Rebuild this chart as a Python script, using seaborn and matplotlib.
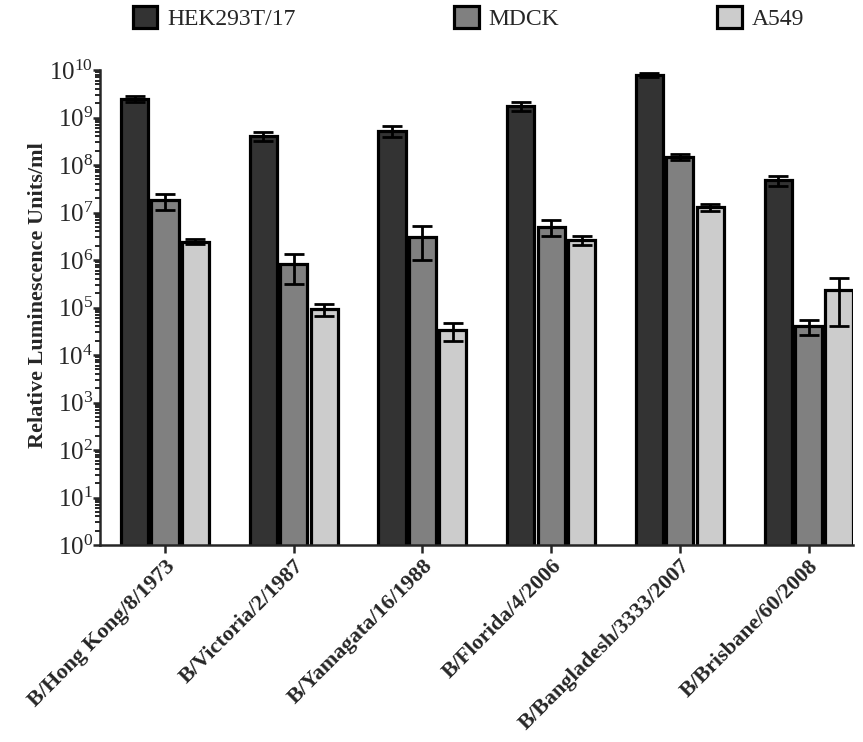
import numpy as np
import pandas as pd
import matplotlib
matplotlib.use("Agg")
import matplotlib.pyplot as plt
from matplotlib.ticker import LogLocator, FuncFormatter, NullFormatter
import seaborn as sns

strains = ["B/Hong Kong/8/1973", "B/Victoria/2/1987", "B/Yamagata/16/1988",
           "B/Florida/4/2006", "B/Bangladesh/3333/2007", "B/Brisbane/60/2008"]
cell_lines = ["HEK293T/17", "MDCK", "A549"]

# mean relative luminescence units/ml per strain
hek_mean = [2.5e9, 4.1e8, 5.2e8, 1.75e9, 7.9e9, 4.8e7]
mdck_mean = [1.8e7, 8.1e5, 3.1e6, 5.0e6, 1.47e8, 4.1e4]
a549_mean = [2.45e6, 9.4e4, 3.4e4, 2.65e6, 1.28e7, 2.3e5]

# standard deviations
hek_sd = [0.4e9, 0.9e8, 1.3e8, 0.35e9, 0.9e9, 1.2e7]
mdck_sd = [6.5e6, 5.0e5, 2.1e6, 1.8e6, 0.22e8, 1.45e4]
a549_sd = [0.28e6, 2.7e4, 1.4e4, 0.6e6, 0.2e7, 1.9e5]

colors = ["#333333", "#808080", "#cccccc"]

means = [hek_mean, mdck_mean, a549_mean]
sds = [hek_sd, mdck_sd, a549_sd]
df = pd.DataFrame({
    "strain": np.tile(strains, 3),
    "cell": np.repeat(cell_lines, len(strains)),
    "rlu": np.concatenate(means),
})

sns.set_theme(style="ticks")
plt.rcParams["font.family"] = ["Liberation Serif", "DejaVu Serif"]
plt.rcParams["mathtext.fontset"] = "custom"
plt.rcParams["mathtext.rm"] = "Liberation Serif"
plt.rcParams["mathtext.it"] = "Liberation Serif:italic"
plt.rcParams["mathtext.bf"] = "Liberation Serif:bold"

fig = plt.figure(figsize=(8.63, 7.42), dpi=100)
ax = fig.add_axes([100 / 863, 1 - 545 / 742, 753 / 863, 475 / 742])

sns.barplot(data=df, x="strain", y="rlu", hue="cell", order=strains,
            hue_order=cell_lines, palette=colors, width=0.71, gap=0.11,
            errorbar=None, edgecolor="black", linewidth=2.3, ax=ax,
            legend=True)

ax.set_yscale("log")
for container, sd in zip(ax.containers, sds):
    xs = [p.get_x() + p.get_width() / 2 for p in container]
    ys = [p.get_height() for p in container]
    ax.errorbar(xs, ys, yerr=sd, fmt="none", ecolor="black",
                elinewidth=2, capsize=7, capthick=2, zorder=5)

ax.set_ylim(1, 1e10)
ax.set_xlim(-0.505, 5.345)

ax.yaxis.set_major_locator(LogLocator(base=10, numticks=20))
ax.yaxis.set_minor_locator(LogLocator(base=10, subs=np.arange(2, 10), numticks=20))
ax.yaxis.set_minor_formatter(NullFormatter())
ax.yaxis.set_major_formatter(FuncFormatter(lambda v, p: r"$10^{%d}$" % round(np.log10(v))))
ax.tick_params(axis="y", which="major", length=5, width=1.8, labelsize=18, pad=0)
ax.tick_params(axis="y", which="minor", length=3.5, width=1.4)
ax.tick_params(axis="x", which="major", length=6, width=1.8, pad=2)

for spine in ["top", "right"]:
    ax.spines[spine].set_visible(False)
for spine in ["left", "bottom"]:
    ax.spines[spine].set_linewidth(1.8)

ax.set_xlabel("")
ax.set_ylabel("Relative Luminescence Units/ml", fontsize=16, fontweight="bold", labelpad=1)
ax.yaxis.label.set_y(0.525)
ax.set_xticks(range(len(strains)))
ax.set_xticklabels(strains, rotation=45, ha="right", rotation_mode="anchor",
                   fontsize=16, fontweight="bold")

handles, labels = ax.get_legend_handles_labels()
ax.get_legend().remove()
fig.legend(handles, labels, loc="center", bbox_to_anchor=(0.543, 1 - 18 / 742),
           ncol=3, frameon=False, fontsize=17, handlelength=1.05,
           handleheight=1.05, handletextpad=0.42, columnspacing=6.7,
           borderaxespad=0.0, borderpad=0.0)

fig.savefig("out.png", dpi=100)
